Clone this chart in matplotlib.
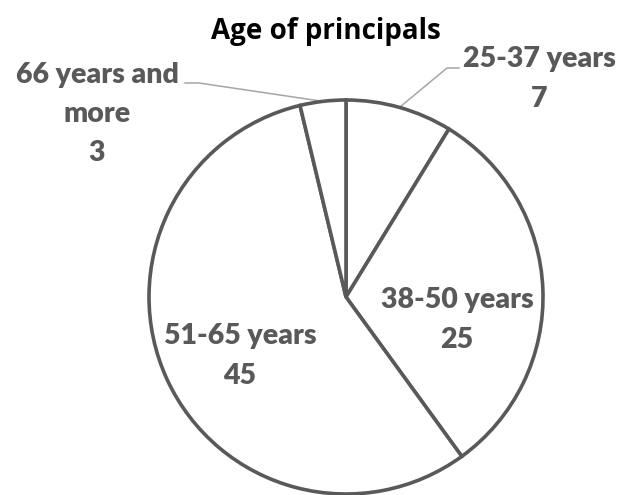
import matplotlib
matplotlib.use("Agg")
import matplotlib.pyplot as plt
import numpy as np

categories = ["25-37 years", "38-50 years", "51-65 years", "66 years and\nmore"]
values = [7, 25, 45, 3]
title = "Age of principals"

# layout (pixels from top-left)
W, H = 617, 495
label_pos = [(539, 79), (457, 320), (240, 356), (97, 114)]
leaders = {0: (459, 68, -12), 3: (185, 83, 14)}  # text-side anchor, stub length

EDGE = "#595959"
TEXT = "#595959"
LEAD = "#a6a6a6"
FONT = "Lato"

fig = plt.figure(figsize=(W / 100, H / 100), dpi=100)
ax = fig.add_axes([0, 0, 1, 1])
cx, cy, R = 346, H - 297, 197
wedges, _ = ax.pie(values, startangle=90, counterclock=False, center=(cx, cy), radius=R,
                   colors=["white"] * len(values), frame=True,
                   wedgeprops=dict(edgecolor=EDGE, linewidth=2.6, joinstyle="miter"))
ax.set_xlim(0, W)
ax.set_ylim(0, H)
ax.set_aspect("equal")
ax.axis("off")

for i, (cat, val) in enumerate(zip(categories, values)):
    x, y = label_pos[i]
    ax.text(x, H - y, f"{cat}\n{val}", ha="center", va="center", fontsize=20.5,
            fontweight="heavy", color=TEXT, family=FONT, linespacing=1.62)

for i, (tx, ty, d) in leaders.items():
    w = wedges[i]
    mid = np.deg2rad((w.theta1 + w.theta2) / 2)
    px, py = cx + R * np.cos(mid), cy + R * np.sin(mid)
    ax.plot([tx, tx + d, px], [H - ty, H - ty, py], color=LEAD, lw=1.1, zorder=0.5)

fig.text(326 / W, 1 - 31 / H, title, ha="center", va="center", fontsize=20,
         fontweight="bold", color="black", family="Open Sans")

fig.savefig("out.png", dpi=100)
